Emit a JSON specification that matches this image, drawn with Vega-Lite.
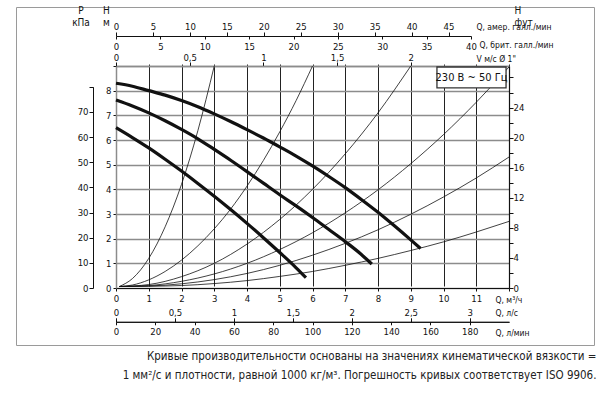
{
  "$schema": "https://vega.github.io/schema/vega-lite/v6.json",
  "width": 578,
  "height": 338,
  "autosize": {"type": "none"},
  "padding": {"left": 16, "top": 7, "right": 12, "bottom": 51},
  "background": "white",
  "config": {
    "font": "DejaVu Sans Condensed, sans-serif",
    "view": {"stroke": "#9a9a9a", "strokeWidth": 1},
    "axis": {
      "labelFontSize": 9.5,
      "labelColor": "#111",
      "titleFontSize": 8.5,
      "titleFontWeight": "normal",
      "titleColor": "#111",
      "tickColor": "#111",
      "domainColor": "#111",
      "labelFlush": false,
      "labelOverlap": false,
      "grid": false
    }
  },
  "datasets": {
    "pump": [
      {"curve": "1", "Q": 0, "H": 8.3}, {"curve": "1", "Q": 0.5, "H": 8.18}, {"curve": "1", "Q": 1, "H": 8.0}, {"curve": "1", "Q": 1.5, "H": 7.82}, {"curve": "1", "Q": 2, "H": 7.6}, {"curve": "1", "Q": 2.5, "H": 7.35}, {"curve": "1", "Q": 3, "H": 7.06}, {"curve": "1", "Q": 3.5, "H": 6.75}, {"curve": "1", "Q": 4, "H": 6.42}, {"curve": "1", "Q": 4.5, "H": 6.08}, {"curve": "1", "Q": 5, "H": 5.72}, {"curve": "1", "Q": 5.5, "H": 5.35}, {"curve": "1", "Q": 6, "H": 4.95}, {"curve": "1", "Q": 6.5, "H": 4.52}, {"curve": "1", "Q": 7, "H": 4.07}, {"curve": "1", "Q": 7.5, "H": 3.58}, {"curve": "1", "Q": 8, "H": 3.07}, {"curve": "1", "Q": 8.5, "H": 2.52}, {"curve": "1", "Q": 9, "H": 1.95}, {"curve": "1", "Q": 9.3, "H": 1.6},
      {"curve": "2", "Q": 0, "H": 7.62}, {"curve": "2", "Q": 0.5, "H": 7.38}, {"curve": "2", "Q": 1, "H": 7.1}, {"curve": "2", "Q": 1.5, "H": 6.78}, {"curve": "2", "Q": 2, "H": 6.43}, {"curve": "2", "Q": 2.5, "H": 6.05}, {"curve": "2", "Q": 3, "H": 5.62}, {"curve": "2", "Q": 3.5, "H": 5.18}, {"curve": "2", "Q": 4, "H": 4.72}, {"curve": "2", "Q": 4.5, "H": 4.25}, {"curve": "2", "Q": 5, "H": 3.78}, {"curve": "2", "Q": 5.5, "H": 3.33}, {"curve": "2", "Q": 6, "H": 2.86}, {"curve": "2", "Q": 6.5, "H": 2.37}, {"curve": "2", "Q": 7, "H": 1.88}, {"curve": "2", "Q": 7.5, "H": 1.35}, {"curve": "2", "Q": 7.81, "H": 0.97},
      {"curve": "3", "Q": 0, "H": 6.5}, {"curve": "3", "Q": 0.5, "H": 6.1}, {"curve": "3", "Q": 1, "H": 5.68}, {"curve": "3", "Q": 1.5, "H": 5.22}, {"curve": "3", "Q": 2, "H": 4.74}, {"curve": "3", "Q": 2.5, "H": 4.24}, {"curve": "3", "Q": 3, "H": 3.72}, {"curve": "3", "Q": 3.5, "H": 3.18}, {"curve": "3", "Q": 4, "H": 2.62}, {"curve": "3", "Q": 4.5, "H": 2.04}, {"curve": "3", "Q": 5, "H": 1.44}, {"curve": "3", "Q": 5.5, "H": 0.82}, {"curve": "3", "Q": 5.8, "H": 0.42}
    ],
    "sys": [
      {"curve": "A", "Q": 0.1, "H": 0.06}, {"curve": "A", "Q": 0.5, "H": 0.38}, {"curve": "A", "Q": 1, "H": 1.2}, {"curve": "A", "Q": 1.5, "H": 2.48}, {"curve": "A", "Q": 2, "H": 4.2}, {"curve": "A", "Q": 2.5, "H": 6.38}, {"curve": "A", "Q": 3, "H": 9.0},
      {"curve": "B", "Q": 0.1, "H": 0.06}, {"curve": "B", "Q": 0.5, "H": 0.12}, {"curve": "B", "Q": 1, "H": 0.33}, {"curve": "B", "Q": 1.5, "H": 0.67}, {"curve": "B", "Q": 2, "H": 1.13}, {"curve": "B", "Q": 2.5, "H": 1.71}, {"curve": "B", "Q": 3, "H": 2.4}, {"curve": "B", "Q": 3.5, "H": 3.2}, {"curve": "B", "Q": 4, "H": 4.13}, {"curve": "B", "Q": 4.5, "H": 5.17}, {"curve": "B", "Q": 5, "H": 6.33}, {"curve": "B", "Q": 5.5, "H": 7.6}, {"curve": "B", "Q": 6, "H": 9.0},
      {"curve": "C", "Q": 0.1, "H": 0.06}, {"curve": "C", "Q": 1, "H": 0.14}, {"curve": "C", "Q": 2, "H": 0.46}, {"curve": "C", "Q": 3, "H": 1.0}, {"curve": "C", "Q": 4, "H": 1.78}, {"curve": "C", "Q": 5, "H": 2.78}, {"curve": "C", "Q": 6, "H": 4.0}, {"curve": "C", "Q": 7, "H": 5.44}, {"curve": "C", "Q": 8, "H": 7.1}, {"curve": "C", "Q": 9, "H": 9.0},
      {"curve": "D", "Q": 0.1, "H": 0.06}, {"curve": "D", "Q": 1, "H": 0.1}, {"curve": "D", "Q": 2, "H": 0.27}, {"curve": "D", "Q": 3, "H": 0.57}, {"curve": "D", "Q": 4, "H": 1.0}, {"curve": "D", "Q": 5, "H": 1.56}, {"curve": "D", "Q": 6, "H": 2.24}, {"curve": "D", "Q": 7, "H": 3.05}, {"curve": "D", "Q": 8, "H": 3.98}, {"curve": "D", "Q": 9, "H": 5.04}, {"curve": "D", "Q": 10, "H": 6.22}, {"curve": "D", "Q": 11, "H": 7.53}, {"curve": "D", "Q": 12, "H": 8.96},
      {"curve": "E", "Q": 0.1, "H": 0.06}, {"curve": "E", "Q": 1, "H": 0.08}, {"curve": "E", "Q": 2, "H": 0.17}, {"curve": "E", "Q": 3, "H": 0.34}, {"curve": "E", "Q": 4, "H": 0.59}, {"curve": "E", "Q": 5, "H": 0.92}, {"curve": "E", "Q": 6, "H": 1.33}, {"curve": "E", "Q": 7, "H": 1.81}, {"curve": "E", "Q": 8, "H": 2.36}, {"curve": "E", "Q": 9, "H": 2.99}, {"curve": "E", "Q": 10, "H": 3.69}, {"curve": "E", "Q": 11, "H": 4.46}, {"curve": "E", "Q": 12, "H": 5.31},
      {"curve": "F", "Q": 0.1, "H": 0.06}, {"curve": "F", "Q": 1, "H": 0.07}, {"curve": "F", "Q": 2, "H": 0.1}, {"curve": "F", "Q": 3, "H": 0.18}, {"curve": "F", "Q": 4, "H": 0.3}, {"curve": "F", "Q": 5, "H": 0.47}, {"curve": "F", "Q": 6, "H": 0.67}, {"curve": "F", "Q": 7, "H": 0.92}, {"curve": "F", "Q": 8, "H": 1.2}, {"curve": "F", "Q": 9, "H": 1.52}, {"curve": "F", "Q": 10, "H": 1.87}, {"curve": "F", "Q": 11, "H": 2.27}, {"curve": "F", "Q": 12, "H": 2.7}
    ],
    "box": [{"Q": 9.8, "Q2": 11.91, "H": 8.11, "H2": 8.96, "Qc": 10.855, "Hc": 8.53, "label": "230 В ~ 50 Гц"}],
    "one": [{"v": 0}]
  },
  "resolve": {"scale": {"x": "independent", "y": "independent"}},
  "layer": [
    {
      "data": {"name": "one"},
      "mark": {"type": "point", "opacity": 0},
      "encoding": {
        "x": {"field": "v", "type": "quantitative", "scale": {"domain": [0, 12], "range": [100, 493], "nice": false, "zero": false},
          "axis": {"orient": "bottom", "offset": -57, "values": [0, 1, 2, 3, 4, 5, 6, 7, 8, 9, 10, 11, 12], "grid": true, "gridColor": "#222", "gridWidth": 1, "domainColor": "#111", "domainWidth": 1.2, "tickSize": 3, "labelPadding": 2, "labelExpr": "datum.value < 12 ? datum.label : ''", "title": "Q, м³/ч", "titleX": 479, "titleY": 11, "titleAlign": "left", "titleBaseline": "middle"}},
        "y": {"field": "v", "type": "quantitative", "scale": {"domain": [0, 9], "range": [281, 59], "nice": false, "zero": false},
          "axis": {"orient": "left", "offset": -100, "values": [0, 1, 2, 3, 4, 5, 6, 7, 8, 9], "grid": true, "gridColor": "#8c8c8c", "gridWidth": 1.5, "domainColor": "#8c8c8c", "domainWidth": 1.5, "tickSize": 3, "labelPadding": 2, "labelExpr": "datum.value < 9 ? datum.label : ''", "title": ["H", "м"], "titleFontSize": 10, "titleAngle": 0, "titleX": -10, "titleY": 6, "titleAlign": "center", "titleBaseline": "alphabetic", "titleLineHeight": 12}}
      }
    },
    {
      "data": {"name": "one"},
      "mark": {"type": "point", "opacity": 0},
      "encoding": {
        "x": {"field": "v", "type": "quantitative", "scale": {"domain": [0, 1], "range": [0, 578], "nice": false, "zero": false},
          "axis": {"orient": "bottom", "offset": 0, "ticks": false, "labels": false, "domain": false,
            "title": ["Кривые производительности основаны на значениях кинематической вязкости =", "1 мм²/с и плотности, равной 1000 кг/м³. Погрешность кривых соответствует ISO 9906."],
            "titleFont": "DejaVu Sans Condensed, sans-serif", "titleFontSize": 11.5, "titleColor": "#222", "titleX": 580, "titleY": 14.5, "titleAlign": "right", "titleBaseline": "alphabetic", "titleLineHeight": 18.5}}
      }
    },
    {
      "data": {"name": "sys"},
      "mark": {"type": "line", "color": "#111", "strokeWidth": 0.8, "interpolate": "monotone"},
      "encoding": {
        "detail": {"field": "curve"},
        "x": {"field": "Q", "type": "quantitative", "scale": {"domain": [0, 12], "range": [100, 493], "nice": false, "zero": false}, "axis": null},
        "y": {"field": "H", "type": "quantitative", "scale": {"domain": [0, 9], "range": [281, 59], "nice": false, "zero": false}, "axis": null}
      }
    },
    {
      "data": {"name": "pump"},
      "mark": {"type": "line", "color": "#111", "strokeWidth": 3.2, "interpolate": "monotone"},
      "encoding": {
        "detail": {"field": "curve"},
        "x": {"field": "Q", "type": "quantitative", "scale": {"domain": [0, 12], "range": [100, 493], "nice": false, "zero": false}, "axis": null},
        "y": {"field": "H", "type": "quantitative", "scale": {"domain": [0, 9], "range": [281, 59], "nice": false, "zero": false}, "axis": null}
      }
    },
    {
      "data": {"name": "box"},
      "mark": {"type": "rect", "fill": "white", "stroke": "#333", "strokeWidth": 1.3},
      "encoding": {
        "x": {"field": "Q", "type": "quantitative", "scale": {"domain": [0, 12], "range": [100, 493], "nice": false, "zero": false}, "axis": null},
        "x2": {"field": "Q2"},
        "y": {"field": "H", "type": "quantitative", "scale": {"domain": [0, 9], "range": [281, 59], "nice": false, "zero": false}, "axis": null},
        "y2": {"field": "H2"}
      }
    },
    {
      "data": {"name": "box"},
      "mark": {"type": "text", "fontSize": 11, "color": "#111"},
      "encoding": {
        "x": {"field": "Qc", "type": "quantitative", "scale": {"domain": [0, 12], "range": [100, 493], "nice": false, "zero": false}, "axis": null},
        "y": {"field": "Hc", "type": "quantitative", "scale": {"domain": [0, 9], "range": [281, 59], "nice": false, "zero": false}, "axis": null},
        "text": {"field": "label"}
      }
    },
    {
      "data": {"name": "one"},
      "mark": {"type": "point", "opacity": 0},
      "encoding": {
        "y": {"field": "v", "type": "quantitative", "scale": {"domain": [0, 80], "range": [281, 79.8], "nice": false, "zero": false},
          "axis": {"orient": "left", "offset": -77, "values": [0, 10, 20, 30, 40, 50, 60, 70, 80], "tickSize": 4, "labelPadding": 1, "labelExpr": "datum.value < 80 ? datum.label : ''", "title": ["P", "кПа"], "titleFontSize": 10, "titleAngle": 0, "titleX": -12.5, "titleY": 6, "titleAlign": "center", "titleBaseline": "alphabetic", "titleLineHeight": 12}}
      }
    },
    {
      "data": {"name": "one"},
      "mark": {"type": "point", "opacity": 0},
      "encoding": {
        "y": {"field": "v", "type": "quantitative", "scale": {"domain": [0, 29.5276], "range": [281, 59], "nice": false, "zero": false},
          "axis": {"orient": "right", "offset": -85, "values": [0, 2, 4, 6, 8, 10, 12, 14, 16, 18, 20, 22, 24, 26, 28], "tickSize": 4, "labelPadding": 0, "domainWidth": 1.2, "labelExpr": "datum.value % 4 === 0 && datum.value < 28 ? datum.label : ''", "title": ["H", "фут"], "titleFontSize": 10, "titleAngle": 0, "titleX": 5, "titleY": 6, "titleAlign": "left", "titleBaseline": "alphabetic", "titleLineHeight": 12}}
      }
    },
    {
      "data": {"name": "one"},
      "mark": {"type": "point", "opacity": 0},
      "encoding": {
        "x": {"field": "v", "type": "quantitative", "scale": {"domain": [0, 2.66667], "range": [100, 493], "nice": false, "zero": false},
          "axis": {"orient": "top", "offset": -59, "values": [0, 0.5, 1, 1.5, 2], "tickSize": 4, "labelPadding": 0, "domainColor": "#8c8c8c", "domainWidth": 1.5, "labelExpr": "replace(format(datum.value, '~g'), '.', ',')", "title": "V м/с Ø 1\"", "titleX": 460, "titleY": -8, "titleAlign": "left", "titleBaseline": "middle"}}
      }
    },
    {
      "data": {"name": "one"},
      "mark": {"type": "point", "opacity": 0},
      "encoding": {
        "x": {"field": "v", "type": "quantitative", "scale": {"domain": [0, 48.04], "range": [100, 455], "nice": false, "zero": false},
          "axis": {"orient": "top", "offset": -29, "values": [0, 5, 10, 15, 20, 25, 30, 35, 40, 45], "tickSize": 4, "labelPadding": 1, "title": "Q, амер. галл./мин", "titleX": 460, "titleY": -10, "titleAlign": "left", "titleBaseline": "middle"}}
      }
    },
    {
      "data": {"name": "one"},
      "mark": {"type": "point", "opacity": 0},
      "encoding": {
        "x": {"field": "v", "type": "quantitative", "scale": {"domain": [0, 40], "range": [100, 455], "nice": false, "zero": false},
          "axis": {"orient": "bottom", "offset": -309, "values": [0, 5, 10, 15, 20, 25, 30, 35, 40], "tickSize": 3, "labelPadding": 2, "domain": false, "title": "Q, брит. галл./мин", "titleX": 463, "titleY": 8, "titleAlign": "left", "titleBaseline": "middle"}}
      }
    },
    {
      "data": {"name": "one"},
      "mark": {"type": "point", "opacity": 0},
      "encoding": {
        "x": {"field": "v", "type": "quantitative", "scale": {"domain": [0, 3.33333], "range": [100, 493], "nice": false, "zero": false},
          "axis": {"orient": "top", "offset": -314.8, "values": [0, 0.5, 1, 1.5, 2, 2.5, 3], "tickSize": 4, "labelPadding": 0, "labelExpr": "replace(format(datum.value, '~g'), '.', ',')", "title": "Q, л/с", "titleX": 479, "titleY": -9, "titleAlign": "left", "titleBaseline": "middle"}}
      }
    },
    {
      "data": {"name": "one"},
      "mark": {"type": "point", "opacity": 0},
      "encoding": {
        "x": {"field": "v", "type": "quantitative", "scale": {"domain": [0, 200], "range": [100, 493], "nice": false, "zero": false},
          "axis": {"orient": "bottom", "offset": -23.2, "values": [0, 20, 40, 60, 80, 100, 120, 140, 160, 180], "tickSize": 3, "labelPadding": 2, "title": "Q, л/мин", "titleX": 479, "titleY": 11, "titleAlign": "left", "titleBaseline": "middle"}}
      }
    }
  ]
}
